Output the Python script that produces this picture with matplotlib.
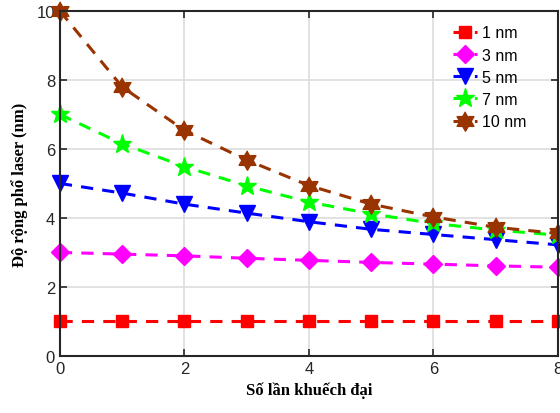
import matplotlib
matplotlib.use("Agg")
import matplotlib.pyplot as plt
import numpy as np

x = [0, 1, 2, 3, 4, 5, 6, 7, 8]
w1 = [1, 1, 1, 1, 1, 1, 1, 1, 1]
w3 = [3.0, 2.95, 2.9, 2.83, 2.77, 2.71, 2.66, 2.61, 2.57]
w5 = [5.0, 4.72, 4.4, 4.14, 3.89, 3.67, 3.52, 3.37, 3.22]
w7 = [7.0, 6.15, 5.49, 4.93, 4.46, 4.12, 3.84, 3.65, 3.5]
w10 = [10.0, 7.8, 6.54, 5.68, 4.94, 4.4, 4.03, 3.73, 3.55]
labels = ["1 nm", "3 nm", "5 nm", "7 nm", "10 nm"]

plt.rcParams["font.family"] = ["Liberation Sans", "DejaVu Sans"]

# six-pointed star (like MATLAB's hexagram)
ang = np.pi / 2 + np.arange(12) * np.pi / 6
rad = np.where(np.arange(12) % 2 == 0, 1.0, 0.58)
hexagram = list(zip(rad * np.cos(ang), rad * np.sin(ang)))

fig = plt.figure(figsize=(5.6, 4.14), dpi=100)
ax = fig.add_axes([0.107, 0.138, 0.889, 0.833])

series = [w1, w3, w5, w7, w10]
styles = [("#ff0000", "s", 9), ("#ff00ff", "D", 9), ("#0000ff", "v", 11),
          ("#00ff00", "*", 14), ("#993300", hexagram, 14)]
for y, (c, m, ms), lab in zip(series, styles, labels):
    ax.plot(x, y, "--", color=c, lw=2.2, marker=m, ms=ms, mec=c, mfc=c,
            label=lab, clip_on=False, dashes=(4, 3))

ax.set_xlim(0, 8)
ax.set_ylim(0, 10)
ax.set_xticks([0, 2, 4, 6, 8])
ax.set_yticks([0, 2, 4, 6, 8, 10])
ax.grid(True, color="#dddddd", lw=1.2)
ax.set_axisbelow(True)
ax.tick_params(direction="in", length=5, width=1.2, labelsize=12,
               colors="#262626", right=True, top=True)
for s in ax.spines.values():
    s.set_color("#262626")
    s.set_linewidth(1.5)

ax.set_xlabel("Số lần khuếch đại", fontfamily=["Liberation Serif", "DejaVu Serif"],
              fontweight="bold", fontsize=12, labelpad=4)
ax.set_ylabel("Độ rộng phổ laser (nm)", fontfamily=["Liberation Serif", "DejaVu Serif"],
              fontweight="bold", fontsize=12, labelpad=6)

ax.legend(loc="upper right", frameon=False, fontsize=11.5, handlelength=1.5,
          handletextpad=0.3, labelspacing=0.45, bbox_to_anchor=(0.965, 1.0))

fig.savefig("out.png", dpi=100)
